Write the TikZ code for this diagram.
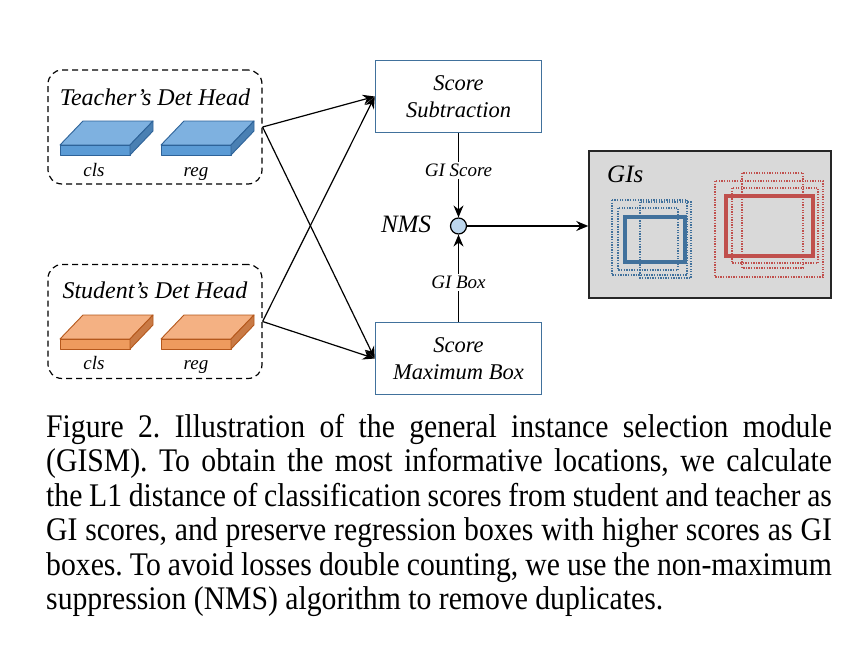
\documentclass[tikz,border=0pt]{standalone}
\usepackage{fontspec}
\setmainfont{Liberation Serif}
\usepackage{graphicx}
\usetikzlibrary{arrows.meta}
\definecolor{btop}{HTML}{7EB1E0}
\definecolor{bfront}{HTML}{5B9BD5}
\definecolor{bside}{HTML}{4A80B3}
\definecolor{bline}{HTML}{2E6399}
\definecolor{otop}{HTML}{F4B183}
\definecolor{ofront}{HTML}{EE9B5E}
\definecolor{oside}{HTML}{C97A45}
\definecolor{oline}{HTML}{B5581C}
\definecolor{boxline}{HTML}{41719C}
\definecolor{nmsfill}{HTML}{BDD7EE}
\definecolor{gisfill}{HTML}{D9D9D9}
\definecolor{gblue}{HTML}{41719C}
\definecolor{gred}{HTML}{C0504D}
\newcommand\myslab[6]{%
  \filldraw[fill=#3,draw=#6,line width=0.9pt,line join=round] (#1,#2) -- ++(23,-24) -- ++(70,0) -- ++(-23,24) -- cycle;
  \filldraw[fill=#4,draw=#6,line width=0.9pt,line join=round] (#1,#2) rectangle ++(70,10);
  \filldraw[fill=#5,draw=#6,line width=0.9pt,line join=round] (#1+70,#2) -- ++(23,-24) -- ++(0,10) -- ++(-23,24) -- cycle;
}
\begin{document}
\begin{tikzpicture}[x=1pt,y=-1pt,
  headbox/.style={draw,dashed,dash pattern=on 6pt off 4pt,line width=1.2pt,rounded corners=14pt,minimum width=214pt,minimum height=114pt,inner sep=0},
  procbox/.style={draw=boxline,line width=1.5pt,minimum width=166pt,minimum height=72pt,align=center,font=\fontsize{22.5}{27}\selectfont\itshape,inner sep=0},
  arr/.style={-{Stealth[length=12pt,width=10pt,inset=4pt]},line width=1.2pt},
  lbl/.style={font=\fontsize{19}{21}\selectfont\itshape,inner sep=0},
  ttl/.style={font=\fontsize{24}{26}\selectfont\itshape,inner sep=0},
  dotb/.style={line width=1.2pt,dash pattern=on 1.3pt off 1.3pt},
]
\useasboundingbox (0,0) rectangle (865,645);
\fill[white] (0,0) rectangle (865,645);

% head boxes
\node[headbox] (teacher) at (155,127) {};
\node[headbox] (student) at (155,321.5) {};
\node[ttl,anchor=base] (tt) at (155,105) {Teacher’s Det Head};
\node[ttl,anchor=base] (st) at (155,298) {Student’s Det Head};
\myslab{60}{145}{btop}{bfront}{bside}{bline}
\myslab{161}{145}{btop}{bfront}{bside}{bline}
\myslab{60}{339}{otop}{ofront}{oside}{oline}
\myslab{161}{339}{otop}{ofront}{oside}{oline}
\node[lbl,anchor=base] (tcls) at (94,176) {cls};
\node[lbl,anchor=base] (treg) at (196,176) {reg};
\node[lbl,anchor=base] (scls) at (94,369) {cls};
\node[lbl,anchor=base] (sreg) at (196,369) {reg};

% process boxes
\node[procbox] (sub) at (458.5,96.5) {Score\\Subtraction};
\node[procbox] (max) at (458.5,358.5) {Score\\Maximum Box};

% NMS
\node[circle,draw,fill=nmsfill,line width=1.2pt,minimum size=16pt,inner sep=0] (nms) at (458.5,226) {};
\node[font=\fontsize{25}{28}\selectfont\itshape,anchor=base,inner sep=0] (nmsl) at (406,232) {NMS};

% GIs box
\node[draw=black!85,fill=gisfill,line width=1.5pt,minimum width=242pt,minimum height=147pt,inner sep=0] (gis) at (710,224.5) {};
\node[font=\fontsize{25}{27}\selectfont\itshape,anchor=base west,inner sep=0] (gisl) at (607,182) {GIs};
\draw[gblue,dotb] (612,200) rectangle (687,275);
\draw[gblue,dotb] (618,208) rectangle (678,270);
\draw[gblue,dotb] (640,202) rectangle (691,278);
\draw[gblue,line width=4.5pt] (625,217) rectangle (685,262);
\draw[gred,dotb] (715,181) rectangle (823,277);
\draw[gred,dotb] (742,173) rectangle (803,268);
\draw[gred,dotb] (732,188) rectangle (818,263);
\draw[gred,line width=4.5pt] (726,196) rectangle (813,256);

% connectors
\draw[arr] (teacher.east) -- (sub.west);
\draw[arr] (teacher.east) -- (max.west);
\draw[arr] (student.east) -- (sub.west);
\draw[arr] (student.east) -- (max.west);
\draw[arr] (sub.south) -- node[lbl,pos=0.44,fill=white,inner sep=2pt] (gisc) {GI Score} (nms.north);
\draw[arr] (max.north) -- node[lbl,pos=0.45,fill=white,inner sep=2pt] (gibx) {GI Box} (nms.south);
\draw[arr] (nms.east) -- (nms.east -| gis.west);

% caption
\node[anchor=base west,inner sep=0] (cap) at (46,437) {\scalebox{0.9}[1]{\parbox[t]{873pt}{\fontsize{33}{34.5}\selectfont\frenchspacing\hyphenpenalty=10000 Figure 2. Illustration of the general instance selection module\linebreak (GISM). To obtain the most informative locations, we calculate\linebreak the L1 distance of classification scores from student and teacher as\linebreak GI scores, and preserve regression boxes with higher scores as GI\linebreak boxes. To avoid losses double counting, we use the non-maximum\linebreak suppression (NMS) algorithm to remove duplicates.}}};
\end{tikzpicture}
\end{document}
